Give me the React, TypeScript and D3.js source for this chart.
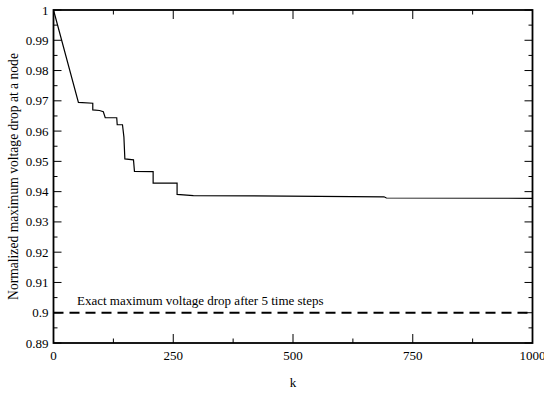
import React from "react";
import * as d3 from "d3";

const kValues = [0, 52, 82, 82, 96, 104, 108, 132, 133, 144, 147, 149, 167, 169, 208, 208, 258, 258, 292, 690, 695, 1000];
const dropValues = [1.0, 0.9695, 0.9692, 0.967, 0.9668, 0.9664, 0.9644, 0.9644, 0.9621, 0.9621, 0.958, 0.9508, 0.9505, 0.9467, 0.9466, 0.9428, 0.9428, 0.9391, 0.9387, 0.9383, 0.9379, 0.9378];
const exactValue = 0.9;
const exactLabel = "Exact maximum voltage drop after 5 time steps";
const xMajorTicks = [0, 250, 500, 750, 1000];
const xMinorTicks = [125, 375, 625, 875];
const yMajorTicks = [0.89, 0.9, 0.91, 0.92, 0.93, 0.94, 0.95, 0.96, 0.97, 0.98, 0.99, 1];
const yMinorTicks = [0.895, 0.905, 0.915, 0.925, 0.935, 0.945, 0.955, 0.965, 0.975, 0.985, 0.995];
const xLabel = "k";
const yLabel = "Normalized maximum voltage drop at a node";

export default function App() {
  const W = 544, H = 393;
  const L = 53.5, R = 532.5, T = 10, B = 343;
  const x = d3.scaleLinear().domain([0, 1000]).range([L, R]);
  const y = d3.scaleLinear().domain([0.89, 1]).range([B, T]);
  const pts: [number, number][] = kValues.map((k, i) => [k, dropValues[i]]);
  const line = d3.line<[number, number]>().x((d) => x(d[0])).y((d) => y(d[1]));
  const F = "Liberation Serif";
  const fmt = (v: number) => String(+v.toFixed(3));
  return (
    <svg width={W} height={H} style={{ position: "absolute", left: 0, top: 0, background: "#fff" }}>
      <rect x={0} y={0} width={W} height={H} fill="#fff" />
      <path d={line(pts) || ""} fill="none" stroke="#000" strokeWidth={1.2} />
      <line x1={x(0)} x2={x(1000)} y1={y(exactValue)} y2={y(exactValue)} stroke="#000" strokeWidth={2} strokeDasharray="10,6" />
      <text fontFamily={F} x={x(49)} y={y(exactValue) - 8} fontSize={13} fill="#000">{exactLabel}</text>
      {xMajorTicks.map((t) => (
        <g key={"xm" + t}>
          <line x1={x(t)} x2={x(t)} y1={B} y2={B - 9} stroke="#000" strokeWidth={1} />
          <line x1={x(t)} x2={x(t)} y1={T} y2={T + 9} stroke="#000" strokeWidth={1} />
          <text fontFamily={F} x={x(t)} y={B + 17} fontSize={13} textAnchor="middle">{t}</text>
        </g>
      ))}
      {xMinorTicks.map((t) => (
        <g key={"xn" + t}>
          <line x1={x(t)} x2={x(t)} y1={B} y2={B - 4.5} stroke="#000" strokeWidth={1} />
          <line x1={x(t)} x2={x(t)} y1={T} y2={T + 4.5} stroke="#000" strokeWidth={1} />
        </g>
      ))}
      {yMajorTicks.map((t) => (
        <g key={"ym" + t}>
          <line x1={L} x2={L + 8} y1={y(t)} y2={y(t)} stroke="#000" strokeWidth={1} />
          <line x1={R} x2={R - 8} y1={y(t)} y2={y(t)} stroke="#000" strokeWidth={1} />
          <text fontFamily={F} x={L - 5} y={y(t) + 4.5} fontSize={13} textAnchor="end">{fmt(t)}</text>
        </g>
      ))}
      {yMinorTicks.map((t) => (
        <g key={"yn" + t}>
          <line x1={L} x2={L + 4} y1={y(t)} y2={y(t)} stroke="#000" strokeWidth={1} />
          <line x1={R} x2={R - 4} y1={y(t)} y2={y(t)} stroke="#000" strokeWidth={1} />
        </g>
      ))}
      <rect x={L} y={T} width={R - L} height={B - T} fill="none" stroke="#000" strokeWidth={1.8} />
      <text fontFamily={F} x={(L + R) / 2} y={387} fontSize={13} textAnchor="middle">{xLabel}</text>
      <text fontFamily={F} transform={`translate(15,${(T + B) / 2}) rotate(-90)`} fontSize={13.6} textAnchor="middle" dominantBaseline="middle">{yLabel}</text>
    </svg>
  );
}
